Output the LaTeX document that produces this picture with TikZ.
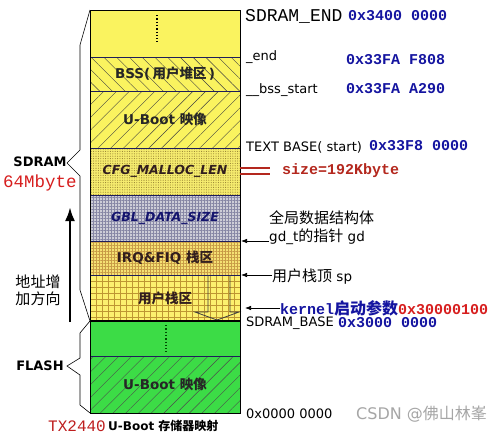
\documentclass[tikz,border=0pt]{standalone}
\usepackage{fontspec}
\setmainfont{DejaVu Sans}
\newfontfamily\cjk{Noto Sans CJK SC}
\newfontfamily\mono{Liberation Mono}
\usetikzlibrary{patterns,patterns.meta,arrows.meta}
\definecolor{yel}{RGB}{250,243,95}
\definecolor{grn}{RGB}{60,220,70}
\definecolor{sepc}{RGB}{30,30,90}
\definecolor{hexblue}{RGB}{20,20,160}
\definecolor{hexred}{RGB}{215,30,30}
\definecolor{sizered}{RGB}{180,40,30}
\definecolor{capred}{RGB}{190,30,30}
\definecolor{cfgtxt}{RGB}{50,30,30}
\definecolor{gbltxt}{RGB}{20,20,110}
\definecolor{irqfill}{RGB}{245,225,115}
\definecolor{irqgrid}{RGB}{200,155,70}
\definecolor{usfill}{RGB}{252,240,110}
\definecolor{usgrid}{RGB}{190,150,50}
\definecolor{gblfill}{RGB}{205,205,215}
\definecolor{gblgrid}{RGB}{135,135,165}
\definecolor{cfgfill}{RGB}{245,235,110}
\definecolor{cfgdot}{RGB}{150,130,50}
\newcommand\setfs[1]{\fontsize{#1}{#1}\selectfont}
\newcommand\blab{\bfseries\setfs{13.5}}
\begin{document}
\begin{tikzpicture}[x=1pt,y=-1pt,
  blk/.style={draw=sepc, line width=0.7pt, minimum width=150pt, inner sep=0pt, outer sep=0pt, anchor=north west},
  rlab/.style={anchor=west, inner sep=0pt, font=\setfs{13}},
  hexv/.style={anchor=west, inner sep=0pt, text=hexblue, font=\mono\bfseries\setfs{15}},
  cjklab/.style={anchor=west, inner sep=0pt, font=\setfs{13.5}},
  ptr/.style={line width=0.7pt, -{Latex[length=6pt,width=4.5pt]}},
  brace/.style={line width=0.6pt, black},
  leftlab/.style={inner sep=0pt, font=\bfseries\setfs{13}}]
\useasboundingbox (0,0) rectangle (500,437);
\fill[white] (0,0) rectangle (500,437);

% SDRAM blocks
\node[blk, fill=yel, minimum height=47pt] (topb) at (90,10) {};
\node[blk, minimum height=34pt, preaction={fill=yel}, pattern={Lines[angle=-45,distance=9pt,line width=0.4pt]}, pattern color=black!75, font=\blab, text=black!85] (bss) at (90,57) {BSS(\,{\cjk 用户堆区}\,)};
\node[blk, minimum height=57pt, preaction={fill=yel}, pattern={Lines[angle=45,distance=9pt,line width=0.4pt]}, pattern color=black!75, font=\blab, text=black!85] (ub) at (90,91) {U-Boot {\cjk 映像}};
\node[blk, minimum height=47pt, preaction={fill=cfgfill}, pattern={Dots[distance=2.4pt,radius=0.55pt]}, pattern color=cfgdot, font=\bfseries\itshape\setfs{12.5}, text=cfgtxt] (cfg) at (90,148) {CFG\_MALLOC\_LEN};
\node[blk, minimum height=46pt, preaction={fill=gblfill}, pattern={Hatch[distance=3pt,line width=0.9pt]}, pattern color=gblgrid, font=\bfseries\itshape\setfs{12.5}, text=gbltxt] (gbl) at (90,195) {GBL\_DATA\_SIZE};
\node[blk, minimum height=34pt, preaction={fill=irqfill}, pattern={Hatch[distance=3pt,line width=0.6pt]}, pattern color=irqgrid, font=\blab, text=cfgtxt] (irq) at (90,241) {IRQ\&FIQ {\cjk 栈区}};
\node[blk, minimum height=46pt, preaction={fill=usfill}, pattern={Hatch[distance=6pt,line width=0.6pt]}, pattern color=usgrid, font=\blab, text=cfgtxt] (ust) at (90,275) {{\cjk 用户栈区}};
% FLASH blocks
\node[blk, fill=grn, minimum height=35pt] (fdots) at (90,321) {};
\node[blk, minimum height=57pt, preaction={fill=grn}, pattern={Lines[angle=45,distance=9pt,line width=0.4pt]}, pattern color=black!70, font=\blab, text=black!85] (fub) at (90,356) {U-Boot {\cjk 映像}};

% dotted continuation marks
\draw[line width=1.3pt, dotted] (157,15) -- (157,42);
\draw[line width=1.3pt, dotted, black!70!green] (166,325) -- (166,352);
% block arrow in user stack
\draw[line width=0.8pt, black!75] (208,275) -- (208,312) -- (195,312) -- (217,320) -- (239,312) -- (230,312) -- (230,275);

% borders
\draw[line width=0.9pt] (topb.north west) rectangle (fub.south east);
\draw[line width=2.6pt] (ust.south west) -- (ust.south east);

% braces
\draw[brace] (topb.north west) -- (80,45) -- (80,150) -- (67,163) -- (80,176) -- (80,290) -- (ust.south west);
\draw[brace] (fdots.north west) -- (80,333) -- (80,358) -- (67,366) -- (80,375) -- (80,405) -- (fub.south west);

% left labels
\node[leftlab] (sdram) at (40,162) {SDRAM};
\node[inner sep=0pt, text=hexred, font=\mono\setfs{17.5}] (sz64) at (40,183) {64Mbyte};
\coordinate (arrbot) at (70,322);
\coordinate (arrtop) at (70,207);
\draw[line width=2.6pt, -{Latex[length=14pt,width=10pt]}] (arrbot) -- (arrtop);
\node[inner sep=0pt, font=\cjk\setfs{15}] (dir1) at (38,282) {地址增};
\node[inner sep=0pt, font=\cjk\setfs{15}] (dir2) at (38,299) {加方向};
\node[leftlab] (flash) at (40,366) {FLASH};

% right labels
\node[anchor=west, inner sep=0pt, font=\mono\setfs{18}] (send) at (245,16) {SDRAM\_END};
\node[hexv] (sendv) at (348,16) {0x3400 0000};
\node[rlab] (endl) at (246,57) {\_end};
\node[hexv] (endv) at (346,60) {0x33FA F808};
\node[rlab] (bssl) at (246,90) {\_\_bss\_start};
\node[hexv] (bssv) at (346,89) {0x33FA A290};
\node[rlab] (textl) at (246,147) {TEXT BASE( start)};
\node[hexv] (textv) at (369,146) {0x33F8 0000};
\coordinate (szl) at (240,168);
\coordinate (szl2) at (240,174);
\coordinate (szr) at (270,168);
\coordinate (szr2) at (270,174);
\node[anchor=west, inner sep=0pt, text=sizered, font=\mono\bfseries\setfs{15}] (size) at (282,171) {size=192Kbyte};
\draw[line width=1.8pt, sizered] (szl) -- (szr);
\draw[line width=1.8pt, sizered] (szl2) -- (szr2);

\node[cjklab] (gd1) at (269,218) {{\cjk\setfs{15}全局数据结构体}};
\node[cjklab] (gd2) at (269,237) {gd\_t{\cjk\setfs{15}的指针} gd};
\coordinate (gdtip) at (241,241);
\draw[ptr] (gd2.west |- gdtip) -- (gdtip);
\node[cjklab] (sp) at (272,277) {{\cjk\setfs{15}用户栈顶} sp};
\coordinate (sptip) at (241,275);
\draw[ptr] (sp.west |- sptip) -- (sptip);
\node[anchor=west, inner sep=0pt] (kern) at (280,308) {{\mono\bfseries\setfs{15}\color{hexblue}kernel}{\cjk\bfseries\setfs{16}\color{hexblue}启动参数}{\mono\bfseries\setfs{15}\color{hexred}0x30000100}};
\coordinate (kerntip) at (245,308);
\draw[ptr] (kern.west) -- (kerntip);
\node[rlab] (sbase) at (246,323) {SDRAM\_BASE};
\node[hexv] (sbasev) at (338,323) {0x3000 0000};
\node[rlab] (zero) at (246,414) {0x0000 0000};
\node[anchor=west, inner sep=0pt, text=black!35, font=\setfs{16}] (wm) at (356,414) {CSDN @{\cjk 佛山林峯}};

% caption
\node[anchor=west, inner sep=0pt, text=capred, font=\mono\setfs{16}] (cap1) at (48,426) {TX2440};
\node[anchor=west, inner sep=0pt, font=\bfseries\setfs{12}] (cap2) at (108,426) {U-Boot {\cjk 存储器映射}};
\end{tikzpicture}
\end{document}
